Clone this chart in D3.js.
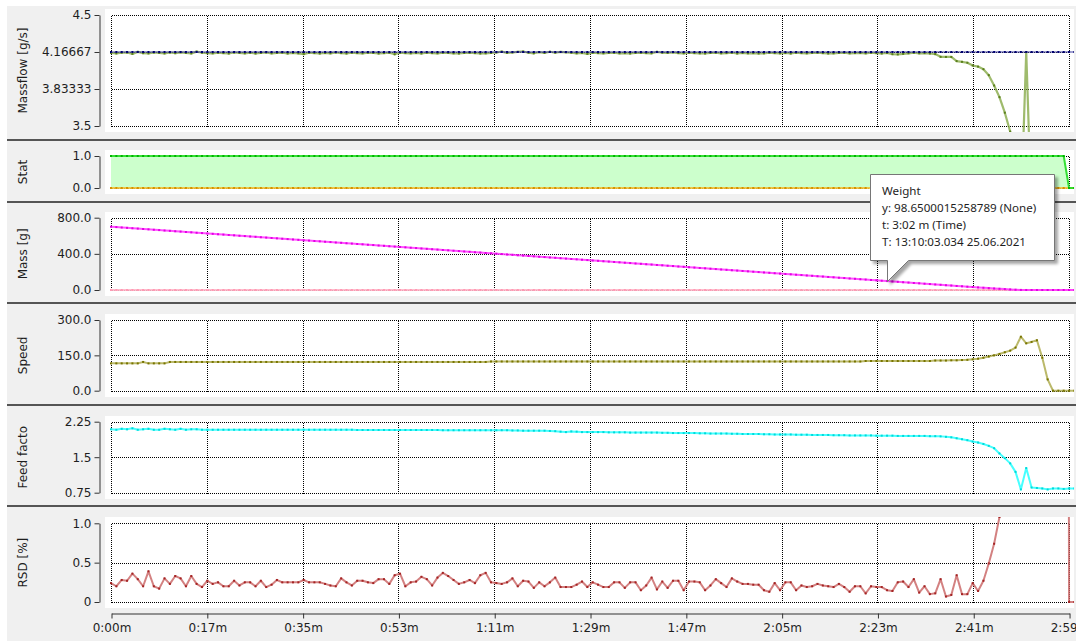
<!DOCTYPE html>
<html>
<head>
<meta charset="utf-8">
<script src="https://cdn.jsdelivr.net/npm/d3@7"></script>
<style>
  html, body { margin: 0; padding: 0; background: #fff; }
  svg { display: block; font-family: "DejaVu Sans", Verdana, sans-serif; }
</style>
</head>
<body>
<svg id="chart" width="1076" height="641"></svg>
<script>
// ---- logged run, one sample per second (t = index * sampleStep) ----
const sampleStep = 1;

const xTickSeconds = [0, 17.9, 35.8, 53.7, 71.6, 89.5, 107.4, 125.3, 143.2, 161.1, 179];
const xTickLabels = ["0:00m", "0:17m", "0:35m", "0:53m", "1:11m", "1:29m", "1:47m", "2:05m", "2:23m", "2:41m", "2:59m"];

// Massflow [g/s], measured
const massflow = [
  4.158,4.154,4.160,4.162,4.150,4.168,4.156,4.154,4.162,4.158,
  4.154,4.162,4.156,4.164,4.158,4.154,4.170,4.160,4.157,4.155,
  4.160,4.157,4.153,4.162,4.158,4.155,4.160,4.153,4.158,4.162,
  4.155,4.158,4.161,4.153,4.158,4.155,4.148,4.160,4.157,4.153,
  4.158,4.155,4.162,4.157,4.153,4.160,4.157,4.155,4.160,4.158,
  4.153,4.157,4.160,4.146,4.160,4.157,4.155,4.158,4.153,4.160,
  4.157,4.155,4.160,4.158,4.155,4.153,4.158,4.160,4.157,4.153,
  4.155,4.158,4.162,4.170,4.158,4.162,4.168,4.171,4.160,4.155,
  4.166,4.158,4.169,4.160,4.167,4.164,4.160,4.155,4.158,4.150,
  4.160,4.157,4.155,4.158,4.160,4.155,4.157,4.153,4.158,4.160,
  4.157,4.155,4.168,4.160,4.158,4.164,4.157,4.155,4.160,4.157,
  4.155,4.153,4.158,4.160,4.155,4.157,4.160,4.153,4.158,4.155,
  4.157,4.153,4.155,4.160,4.157,4.155,4.158,4.153,4.160,4.157,
  4.155,4.158,4.160,4.157,4.153,4.155,4.158,4.160,4.155,4.157,
  4.158,4.155,4.160,4.157,4.153,4.158,4.147,4.145,4.150,4.155,
  4.160,4.155,4.157,4.153,4.148,4.123,4.122,4.122,4.085,4.078,
  4.070,4.045,4.035,4.012,3.958,3.865,3.760,3.620,3.450,3.200,
  2.700,4.16667,2.700,2.400,2.200,1.500,0.500,0,0,0,0
];
// Massflow setpoint [g/s]
const massflowSetpoint = 4.16667;

// Dosing status (1 = running)
const statusOn = [
  1,1,1,1,1,1,1,1,1,1, 1,1,1,1,1,1,1,1,1,1, 1,1,1,1,1,1,1,1,1,1,
  1,1,1,1,1,1,1,1,1,1, 1,1,1,1,1,1,1,1,1,1, 1,1,1,1,1,1,1,1,1,1,
  1,1,1,1,1,1,1,1,1,1, 1,1,1,1,1,1,1,1,1,1, 1,1,1,1,1,1,1,1,1,1,
  1,1,1,1,1,1,1,1,1,1, 1,1,1,1,1,1,1,1,1,1, 1,1,1,1,1,1,1,1,1,1,
  1,1,1,1,1,1,1,1,1,1, 1,1,1,1,1,1,1,1,1,1, 1,1,1,1,1,1,1,1,1,1,
  1,1,1,1,1,1,1,1,1,1, 1,1,1,1,1,1,1,1,1,1,
  1,1,1,1,1,1,1,1,1,0,0
];
const statusAlarm = 0;

// Weight [g]
const mass = [
  700.0,695.9,691.7,687.6,683.4,679.3,675.1,671.0,666.8,662.7,
  658.5,654.4,650.2,646.1,641.9,637.8,633.6,629.5,625.4,621.2,
  617.1,612.9,608.8,604.6,600.5,596.3,592.2,588.0,583.9,579.7,
  575.6,571.4,567.3,563.1,559.0,554.9,550.7,546.6,542.4,538.3,
  534.1,530.0,525.8,521.7,517.5,513.4,509.2,505.1,500.9,496.8,
  492.7,488.5,484.4,480.2,476.1,471.9,467.8,463.6,459.5,455.3,
  451.2,447.0,442.9,438.7,434.6,430.4,426.3,422.2,418.0,413.9,
  409.7,405.6,401.4,397.3,393.1,389.0,384.8,380.7,376.5,372.4,
  368.2,364.1,359.9,355.8,351.7,347.5,343.4,339.2,335.1,330.9,
  326.8,322.6,318.5,314.3,310.2,306.0,301.9,297.7,293.6,289.4,
  285.3,281.2,277.0,272.9,268.7,264.6,260.4,256.3,252.1,248.0,
  243.8,239.7,235.5,231.4,227.2,223.1,218.9,214.8,210.7,206.5,
  202.4,198.2,194.1,189.9,185.8,181.6,177.5,173.3,169.2,165.0,
  160.9,156.7,152.6,148.5,144.3,140.2,136.0,131.9,127.7,123.6,
  119.4,115.3,111.1,107.0,102.8,98.6500015258789,94.5,90.4,86.2,82.1,
  77.9,73.8,69.6,65.5,61.4,57.2,53.1,49.0,44.9,40.8,
  36.8,32.8,28.8,24.8,20.9,17.1,13.4,9.8,6.4,3.2,
  1.2,0.3,0,0,0,0,0,0,0,0,0
];
const massRefill = 0;

// Screw speed
const speed = [
  116,116,116,116,116,116,122,116,116,116,
  116,122,122,122,122,122,122,122,122,122,
  122,122,122,122,122,122,122,122,122,122,
  122,122,122,122,122,122,122,122,122,122,
  122,122,122,122,122,122,122,122,122,122,
  122,122,122,122,122,122,122,122,122,122,
  122,122,122,122,122,122,122,122,122,122,
  122,124,124,124,124,124,124,124,124,124,
  124,124,124,124,124,124,124,124,124,124,
  124,124,124,124,124,124,124,124,124,124,
  124,124,124,124,124,124,124,124,124,124,
  124,124,124,124,124,124,124,124,124,124,
  124,124,124,124,124,124,124,124,124,124,
  124,124,124,124,124,124,124,124,124,124,
  124,126,126,126,126,126,126,126,126,126,
  126,126,126,126,128,128,128,129,129,130,
  131,133,136,140,145,150,156,163,170,183,
  229,201,207,214,140,48,0,0,0,0,0
];

// Feed factor
const feedFactor = [
  2.09,2.08,2.10,2.09,2.11,2.08,2.09,2.10,2.08,2.08,
  2.10,2.09,2.08,2.10,2.08,2.09,2.09,2.08,2.08,2.08,
  2.08,2.08,2.08,2.08,2.08,2.08,2.08,2.08,2.08,2.08,
  2.08,2.08,2.08,2.08,2.08,2.08,2.08,2.08,2.08,2.08,
  2.08,2.08,2.08,2.08,2.08,2.08,2.075,2.075,2.075,2.075,
  2.075,2.075,2.075,2.075,2.075,2.075,2.075,2.075,2.075,2.075,
  2.075,2.075,2.07,2.07,2.07,2.07,2.07,2.07,2.07,2.07,
  2.07,2.07,2.07,2.07,2.07,2.065,2.065,2.06,2.06,2.06,
  2.06,2.06,2.055,2.05,2.04,2.03,2.045,2.04,2.03,2.03,
  2.03,2.03,2.03,2.025,2.025,2.025,2.025,2.02,2.02,2.02,
  2.02,2.02,2.02,2.015,2.015,2.01,2.01,2.01,2.01,2.01,
  2.005,2.005,2.00,2.00,2.00,2.00,1.995,1.995,1.99,1.99,
  1.99,1.99,1.985,1.985,1.98,1.98,1.98,1.98,1.975,1.975,
  1.975,1.97,1.97,1.97,1.97,1.965,1.965,1.965,1.96,1.96,
  1.96,1.96,1.96,1.955,1.955,1.955,1.955,1.95,1.95,1.95,
  1.95,1.95,1.95,1.945,1.945,1.94,1.93,1.92,1.90,1.88,
  1.86,1.83,1.81,1.78,1.74,1.69,1.58,1.48,1.37,1.19,
  0.82,1.27,0.86,0.85,0.84,0.82,0.84,0.84,0.83,0.84,0.84
];

// Relative standard deviation [%]
const rsd = [
  0.24,0.20,0.28,0.27,0.36,0.29,0.20,0.39,0.20,0.17,
  0.30,0.23,0.33,0.30,0.20,0.33,0.23,0.19,0.27,0.23,
  0.25,0.20,0.20,0.27,0.21,0.25,0.25,0.20,0.27,0.19,
  0.22,0.28,0.25,0.25,0.25,0.25,0.28,0.25,0.25,0.25,
  0.23,0.21,0.20,0.30,0.25,0.21,0.27,0.27,0.25,0.24,
  0.29,0.29,0.23,0.34,0.36,0.20,0.25,0.26,0.32,0.29,
  0.21,0.31,0.37,0.33,0.28,0.23,0.25,0.28,0.24,0.34,
  0.37,0.25,0.24,0.23,0.25,0.30,0.20,0.27,0.26,0.18,
  0.25,0.20,0.25,0.31,0.19,0.19,0.19,0.22,0.26,0.19,
  0.25,0.22,0.19,0.19,0.25,0.25,0.18,0.25,0.25,0.15,
  0.21,0.31,0.16,0.26,0.18,0.27,0.27,0.15,0.26,0.26,
  0.25,0.15,0.21,0.29,0.24,0.19,0.30,0.26,0.23,0.23,
  0.22,0.22,0.15,0.13,0.24,0.15,0.25,0.25,0.15,0.21,
  0.19,0.20,0.23,0.21,0.20,0.19,0.23,0.19,0.13,0.20,
  0.20,0.11,0.20,0.19,0.19,0.15,0.14,0.25,0.26,0.19,
  0.29,0.12,0.20,0.10,0.11,0.29,0.07,0.09,0.34,0.10,
  0.10,0.24,0.14,0.27,0.49,0.74,1.08,1.6,2.4,3.5,
  5,6.5,8,10,12,15,18,22,40,0,0
];

// Hover readout on the weight trace
const tipIndex = 145;
const tipLines = ["Weight", "y: 98.6500015258789 (None)", "t: 3:02 m (Time)", "T: 13:10:03.034 25.06.2021"];

// ---- axis definitions per strip ----
const panels = [
  { title: "Massflow [g/s]", domain: [3.5, 4.5], ticks: [3.5, 3.83333, 4.16667, 4.5], labels: ["3.5", "3.83333", "4.16667", "4.5"] },
  { title: "Stat", domain: [0, 1], ticks: [0, 1], labels: ["0.0", "1.0"] },
  { title: "Mass [g]", domain: [0, 800], ticks: [0, 400, 800], labels: ["0.0", "400.0", "800.0"] },
  { title: "Speed", domain: [0, 300], ticks: [0, 150, 300], labels: ["0.0", "150.0", "300.0"] },
  { title: "Feed facto", domain: [0.75, 2.25], ticks: [0.75, 1.5, 2.25], labels: ["0.75", "1.5", "2.25"] },
  { title: "RSD [%]", domain: [0, 1], ticks: [0, 0.5, 1], labels: ["0", "0.5", "1.0"] }
];

// strip bands (gray) and tick extents in pixels
const layout = [
  { band: [6, 139],   plot: [15, 126] },
  { band: [141, 201], plot: [156, 188] },
  { band: [203, 302], plot: [217.7, 290] },
  { band: [304, 404], plot: [320, 390.7] },
  { band: [406, 505], plot: [421.7, 492.7] },
  { band: [507, 641], plot: [523.3, 602] }
];

const W = 1076, H = 641;
const svg = d3.select("#chart");
const defs = svg.append("defs");

svg.append("rect").attr("width", W).attr("height", H).attr("fill", "#fff");

const x = d3.scaleLinear().domain([0, 180]).range([111, 1074.4]);
const xLeft = x(0), xRight = x(179);
const px = v => Math.round(v) + 0.5;

const yScales = [];

panels.forEach((p, k) => {
  const L = layout[k];
  const g = svg.append("g");

  g.append("rect").attr("x", 7).attr("y", L.band[0]).attr("width", W - 7)
    .attr("height", L.band[1] - L.band[0]).attr("fill", "#f0f0f0");
  if (k > 0) {
    g.append("rect").attr("x", 7).attr("y", L.band[0] - 2).attr("width", W - 7)
      .attr("height", 2).attr("fill", "#555");
  }

  const y = d3.scaleLinear().domain(p.domain).range([L.plot[1], L.plot[0]]);
  yScales.push(y);

  const top = y(p.domain[1]), bot = y(p.domain[0]);
  g.append("rect").attr("x", 105).attr("y", Math.round(top) - 6)
    .attr("width", 1074 - 105).attr("height", Math.round(bot) - Math.round(top) + 12)
    .attr("fill", "#fff");

  const clipId = "clip" + k;
  defs.append("clipPath").attr("id", clipId).append("rect")
    .attr("x", 105).attr("y", Math.round(top) - 6)
    .attr("width", 1074 - 105).attr("height", Math.round(bot) - Math.round(top) + 12);

  // dotted grid
  const grid = g.append("g").attr("stroke", "#000").attr("stroke-width", 1)
    .attr("stroke-dasharray", "1,1").attr("shape-rendering", "crispEdges");
  grid.selectAll("line.v").data(xTickSeconds).join("line")
    .attr("x1", d => px(x(d))).attr("x2", d => px(x(d)))
    .attr("y1", px(top)).attr("y2", px(bot));
  grid.selectAll("line.h").data(p.ticks).join("line")
    .attr("x1", px(xLeft)).attr("x2", px(xRight))
    .attr("y1", d => px(y(d))).attr("y2", d => px(y(d)));

  // y axis
  const ax = g.append("g").attr("transform", "translate(99.5,0)")
    .call(d3.axisLeft(y).tickValues(p.ticks).tickFormat((d, i) => p.labels[i])
      .tickSize(5).tickPadding(3).tickSizeOuter(0));
  ax.select(".domain").attr("stroke", "#333");
  ax.selectAll(".tick line").attr("stroke", "#333");
  ax.selectAll(".tick text").attr("fill", "#1e1e1e").attr("font-size", 12)
    .attr("font-family", "'DejaVu Sans', Verdana, sans-serif");

  svg.append("text")
    .attr("transform", `translate(23,${(top + bot) / 2}) rotate(-90)`)
    .attr("text-anchor", "middle").attr("dominant-baseline", "central")
    .attr("font-size", 12).attr("fill", "#1e1e1e").text(p.title);

  p.g = g.append("g").attr("clip-path", `url(#${clipId})`);
});

// draws a logged trace with its sample markers
function trace(g, y, values, st) {
  const line = d3.line().x((d, i) => x(i * sampleStep)).y(d => y(d));
  g.append("path").attr("d", line(values)).attr("fill", "none")
    .attr("stroke", st.line).attr("stroke-width", st.width || 2)
    .attr("stroke-opacity", st.opacity || 0.75).attr("stroke-linejoin", "round");
  g.append("g").selectAll("rect").data(values).join("rect")
    .attr("x", (d, i) => x(i * sampleStep) - 1).attr("y", d => y(d) - 1)
    .attr("width", 2).attr("height", 2).attr("fill", st.dot);
}

// Massflow: measured trace under the setpoint trace
trace(panels[0].g, yScales[0], massflow, { line: "#7fa43c", dot: "#5a7f1c", width: 2.2 });
trace(panels[0].g, yScales[0], massflow.map(() => massflowSetpoint), { line: "#4a4aa8", dot: "#00006e", opacity: 0.7, width: 1.3 });

// Stat
{
  const y = yScales[1];
  const area = d3.area().x((d, i) => x(i * sampleStep)).y0(y(0)).y1(d => y(d));
  panels[1].g.append("path").attr("d", area(statusOn)).attr("fill", "#ccffcc");
  trace(panels[1].g, y, statusOn.map(() => statusAlarm), { line: "#f2c23a", dot: "#d49000", opacity: 0.9 });
  trace(panels[1].g, y, statusOn, { line: "#22dd22", dot: "#00b400", opacity: 0.9 });
}

// Mass
trace(panels[2].g, yScales[2], mass.map(() => massRefill), { line: "#ffb6c8", dot: "#ff9ab4", opacity: 0.9 });
trace(panels[2].g, yScales[2], mass, { line: "#ff33ff", dot: "#e400e4", opacity: 0.85 });

// Speed
trace(panels[3].g, yScales[3], speed, { line: "#a4a23a", dot: "#777400" });

// Feed factor
trace(panels[4].g, yScales[4], feedFactor, { line: "#33ffff", dot: "#00dada", opacity: 0.9 });

// RSD
trace(panels[5].g, yScales[5], rsd, { line: "#c86262", dot: "#a42424", opacity: 0.8 });

// time axis
{
  const xa = x.copy().domain([0, 179]).range([xLeft, xRight]);
  const ax = svg.append("g").attr("transform", "translate(0.5,613.5)")
    .call(d3.axisBottom(xa).tickValues(xTickSeconds).tickFormat((d, i) => xTickLabels[i])
      .tickSize(5).tickPadding(5).tickSizeOuter(0));
  ax.select(".domain").attr("stroke", "#333");
  ax.selectAll(".tick line").attr("stroke", "#333");
  ax.selectAll(".tick text").attr("fill", "#1e1e1e").attr("font-size", 12)
    .attr("font-family", "'DejaVu Sans', Verdana, sans-serif");
}

// hover callout
{
  const tx = x(tipIndex * sampleStep), ty = yScales[2](mass[tipIndex]);
  const bx = tx - 17, by = ty - 107.5, bw = 184, bh = 86;
  const f = defs.append("filter").attr("id", "tipShadow")
    .attr("x", "-10%").attr("y", "-10%").attr("width", "130%").attr("height", "140%");
  f.append("feDropShadow").attr("dx", 3).attr("dy", 3).attr("stdDeviation", 1.6)
    .attr("flood-color", "#000").attr("flood-opacity", 0.35);
  const r = v => Math.round(v) + 0.5;
  const path = `M${r(bx)},${r(by)} H${r(bx + bw)} V${r(by + bh)} H${r(tx + 21)} L${r(tx)},${r(ty)} V${r(by + bh)} H${r(bx)} Z`;
  svg.append("path").attr("d", path).attr("fill", "#fff")
    .attr("stroke", "#767676").attr("stroke-width", 1).attr("filter", "url(#tipShadow)");
  svg.append("g").selectAll("text").data(tipLines).join("text")
    .attr("x", bx + 12).attr("y", (d, i) => by + 21 + i * 17)
    .attr("font-family", "'Noto Sans', 'Liberation Sans', sans-serif")
    .attr("font-size", 11.6).attr("fill", "#1e1e1e").text(d => d);
}
</script>
</body>
</html>
